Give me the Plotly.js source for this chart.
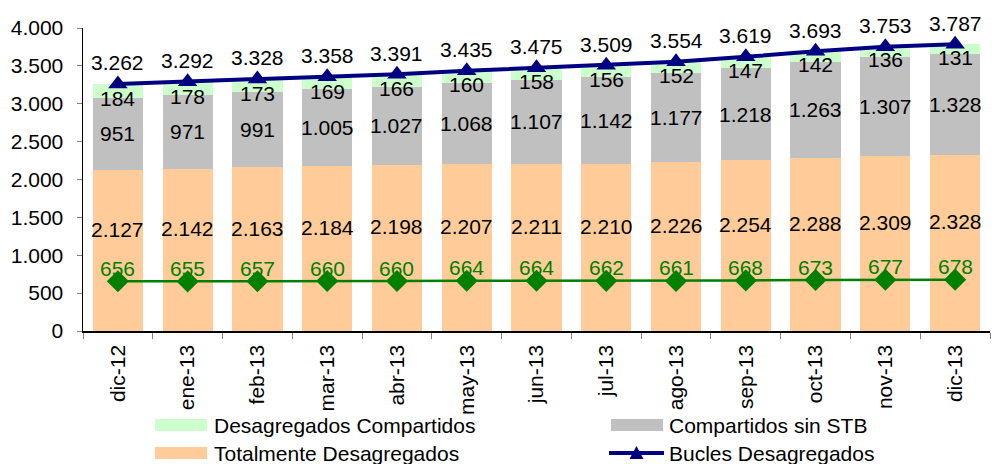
<!DOCTYPE html>
<html>
<head>
<meta charset="utf-8">
<script src="https://cdn.plot.ly/plotly-3.0.1.min.js"></script>
<style>html,body{margin:0;padding:0;background:#fff;}#chart{width:995px;height:464px;}</style>
</head>
<body>
<div id="chart"></div>
<script>
const categories = ["dic-12","ene-13","feb-13","mar-13","abr-13","may-13","jun-13","jul-13","ago-13","sep-13","oct-13","nov-13","dic-13"];
const totalmente = [2127,2142,2163,2184,2198,2207,2211,2210,2226,2254,2288,2309,2328];
const compartidosSinSTB = [951,971,991,1005,1027,1068,1107,1142,1177,1218,1263,1307,1328];
const desagCompartidos = [184,178,173,169,166,160,158,156,152,147,142,136,131];
const bucles = [3262,3292,3328,3358,3391,3435,3475,3509,3554,3619,3693,3753,3787];
const serieVerde = [656,655,657,660,660,664,664,662,661,668,673,677,678];
const yTicks = [0,500,1000,1500,2000,2500,3000,3500,4000];

const FONT = "Liberation Sans, Arial, sans-serif";
const FS = 21;
const ML = 83, MR = 5, MT = 28, MB = 133, W = 995, H = 464;
const PW = W - ML - MR, PH = H - MT - MB;
const px = x => (x - ML) / PW;
const py = y => (H - MB - y) / PH;
const fmt = v => String(v).replace(/\B(?=(\d{3})+(?!\d))/g, ".");

const traces = [
  {type:"bar", name:"Totalmente Desagregados", x:categories, y:totalmente, marker:{color:"#FFCC99"}, hoverinfo:"y"},
  {type:"bar", name:"Compartidos sin STB", x:categories, y:compartidosSinSTB, marker:{color:"#C0C0C0"}, hoverinfo:"y"},
  {type:"bar", name:"Desagregados Compartidos", x:categories, y:desagCompartidos, marker:{color:"#CCFFCC"}, hoverinfo:"y"},
  {type:"scatter", mode:"lines+markers", name:"Bucles Desagregados", x:categories, y:bucles,
   line:{color:"#000080", width:4}, marker:{symbol:"triangle-up", size:17, color:"#000080"}, cliponaxis:false},
  {type:"scatter", mode:"lines+markers", name:"verde", x:categories, y:serieVerde,
   line:{color:"#008000", width:2.5}, marker:{symbol:"diamond", size:17, color:"#008000"}, cliponaxis:false}
];

const annotations = [];
categories.forEach((c, i) => {
  const base = {x:c, xref:"x", yref:"y", showarrow:false, font:{family:FONT, size:FS, color:"#000"}};
  annotations.push(Object.assign({}, base, {y: totalmente[i]/2, yshift:21, text: fmt(totalmente[i])}));
  annotations.push(Object.assign({}, base, {y: totalmente[i] + compartidosSinSTB[i]/2, text: fmt(compartidosSinSTB[i])}));
  annotations.push(Object.assign({}, base, {y: totalmente[i] + compartidosSinSTB[i] + desagCompartidos[i]/2, yshift:-8, text: fmt(desagCompartidos[i])}));
  annotations.push(Object.assign({}, base, {y: bucles[i], yshift:21, text: fmt(bucles[i])}));
  annotations.push(Object.assign({}, base, {y: serieVerde[i], yshift:13, text: fmt(serieVerde[i]), font:{family:FONT, size:FS, color:"#008000"}}));
});

// manual legend
const legendItems = [
  {name:"Desagregados Compartidos", color:"#CCFFCC", kind:"bar", sx:155, tx:212, cy:425},
  {name:"Compartidos sin STB", color:"#C0C0C0", kind:"bar", sx:611, tx:667, cy:425},
  {name:"Totalmente Desagregados", color:"#FFCC99", kind:"bar", sx:155, tx:212, cy:453},
  {name:"Bucles Desagregados", color:"#000080", kind:"line", sx:609, tx:667, cy:453}
];
const shapes = [];
legendItems.forEach(it => {
  if (it.kind === "bar") {
    shapes.push({type:"rect", xref:"paper", yref:"paper", x0:px(it.sx), x1:px(it.sx+52), y0:py(it.cy-6), y1:py(it.cy+6),
      fillcolor:it.color, line:{width:0}});
  } else {
    shapes.push({type:"line", xref:"paper", yref:"paper", x0:px(it.sx), x1:px(it.sx+55), y0:py(it.cy), y1:py(it.cy),
      line:{color:it.color, width:4}});
    const cx = it.sx + 27.5;
    const path = `M ${px(cx-7)} ${py(it.cy+6)} L ${px(cx+7)} ${py(it.cy+6)} L ${px(cx)} ${py(it.cy-7)} Z`;
    shapes.push({type:"path", xref:"paper", yref:"paper", path:path, fillcolor:it.color, line:{width:0}});
  }
  annotations.push({xref:"paper", yref:"paper", x:px(it.tx), y:py(it.cy), xanchor:"left", yanchor:"middle",
    text:it.name, showarrow:false, font:{family:FONT, size:FS, color:"#000"}});
});

const layout = {
  width:W, height:H,
  margin:{l:ML, r:MR, t:MT, b:MB, pad:0},
  paper_bgcolor:"#fff", plot_bgcolor:"#fff",
  separators:",.",
  barmode:"stack", bargap:0.28,
  showlegend:false,
  font:{family:FONT, size:FS, color:"#000"},
  xaxis:{type:"category", range:[-0.5, categories.length - 0.5], automargin:false, tickangle:-90, ticks:"outside", tickson:"boundaries", ticklen:6, tickcolor:"#808080",
    showline:true, linecolor:"#000", linewidth:1.5, showgrid:false, tickfont:{family:FONT, size:FS, color:"#000"},
    ticklabelstandoff:4},
  yaxis:{range:[0,4000], automargin:false, tickvals:yTicks, ticktext:yTicks.map(fmt), ticks:"outside", ticklen:5, tickcolor:"#808080",
    showline:true, linecolor:"#000", linewidth:1.5, showgrid:false, zeroline:false,
    tickfont:{family:FONT, size:FS, color:"#000"}, ticklabelstandoff:9},
  annotations:annotations,
  shapes:shapes
};

Plotly.newPlot("chart", traces, layout, {displayModeBar:false, staticPlot:true});
</script>
</body>
</html>
